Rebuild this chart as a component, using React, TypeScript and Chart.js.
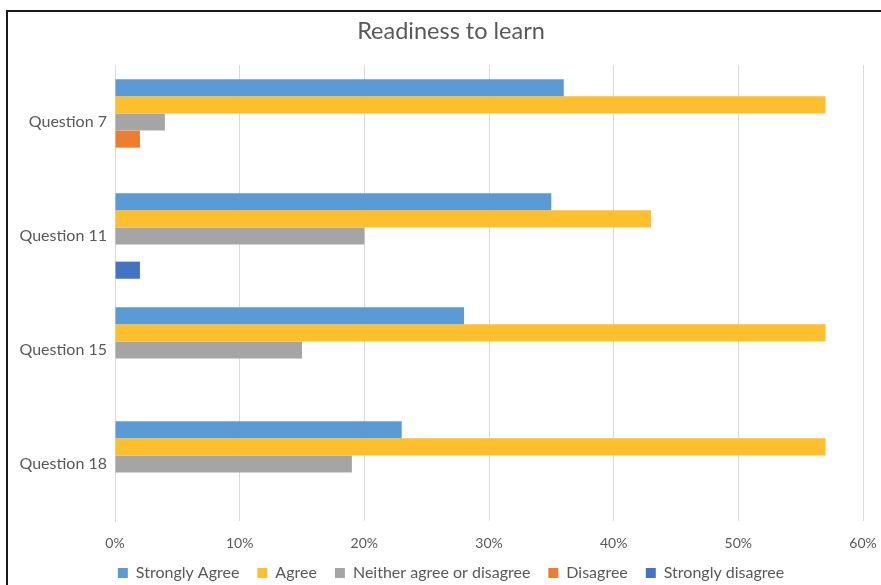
import React, { useEffect, useRef } from "react";
import { Chart, registerables } from "chart.js";

Chart.register(...registerables);

const categories = ["Question 7", "Question 11", "Question 15", "Question 18"];
const stronglyAgree = [36, 35, 28, 23];
const agree = [57, 43, 57, 57];
const neither = [4, 20, 15, 19];
const disagree = [2, 0, 0, 0];
const stronglyDisagree = [0, 2, 0, 0];
const seriesNames = ["Strongly Agree", "Agree", "Neither agree or disagree", "Disagree", "Strongly disagree"];
const seriesColors = ["#5B9BD5", "#FDBF2D", "#A5A5A5", "#ED7D31", "#4472C4"];
const xTickMax = 60;
const xTickStep = 10;

export default function App() {
  const ref = useRef<HTMLCanvasElement | null>(null);

  useEffect(() => {
    if (!ref.current) return;
    const values = [stronglyAgree, agree, neither, disagree, stronglyDisagree];
    const chart = new Chart(ref.current, {
      type: "bar",
      data: {
        labels: categories,
        datasets: values.map((v, i) => ({
          label: seriesNames[i],
          data: v,
          backgroundColor: seriesColors[i],
          borderWidth: 0,
          categoryPercentage: 0.75,
          barPercentage: 1,
        })),
      },
      options: {
        indexAxis: "y",
        responsive: false,
        animation: false,
        devicePixelRatio: 1,
        layout: { padding: { left: 39, right: 39, top: 0, bottom: -6 } },
        plugins: {
          title: {
            display: true,
            text: "Readiness to learn",
            color: "#595959",
            font: { family: "Lato", size: 23.5, weight: "normal" },
            padding: { top: 17.5, bottom: 19.3 },
          },
          legend: {
            position: "bottom",
            labels: {
              color: "#595959",
              font: { family: "Lato", size: 16 },
              boxWidth: 10,
              boxHeight: 10,
              padding: 18,
            },
          },
          tooltip: { enabled: false },
        },
        scales: {
          x: {
            min: 0,
            max: xTickMax,
            border: { display: false },
            grid: { color: "#D9D9D9", drawTicks: false },
            ticks: {
              stepSize: xTickStep,
              padding: 14,
              color: "#595959",
              font: { family: "Lato", size: 14 },
              callback: (v: any) => `${v}%`,
            },
            afterFit: (scale: any) => {
              scale.height = 26;
              scale._computeLabelArea = () => undefined;
            },
          },
          y: {
            border: { display: true, color: "#D9D9D9" },
            grid: { display: false, drawTicks: false },
            ticks: {
              padding: 8,
              color: "#595959",
              font: { family: "Lato", size: 16 },
            },
            afterFit: (scale: any) => {
              scale.width = 76;
              scale._computeLabelArea = () => undefined;
            },
          },
        },
      },
    });
    return () => chart.destroy();
  }, []);

  return (
    <div
      style={{
        position: "absolute",
        left: 0,
        top: 0,
        width: 881,
        height: 585,
        overflow: "hidden",
        background: "#ffffff",
      }}
    >
      <div
        style={{
          position: "absolute",
          left: 6,
          top: 10,
          width: 1000,
          height: 1000,
          border: "2px solid #1a1a1a",
        }}
      />
      <canvas
        ref={ref}
        width={902}
        height={585}
        style={{ position: "absolute", left: 0, top: 0, width: 902, height: 585 }}
      />
    </div>
  );
}
